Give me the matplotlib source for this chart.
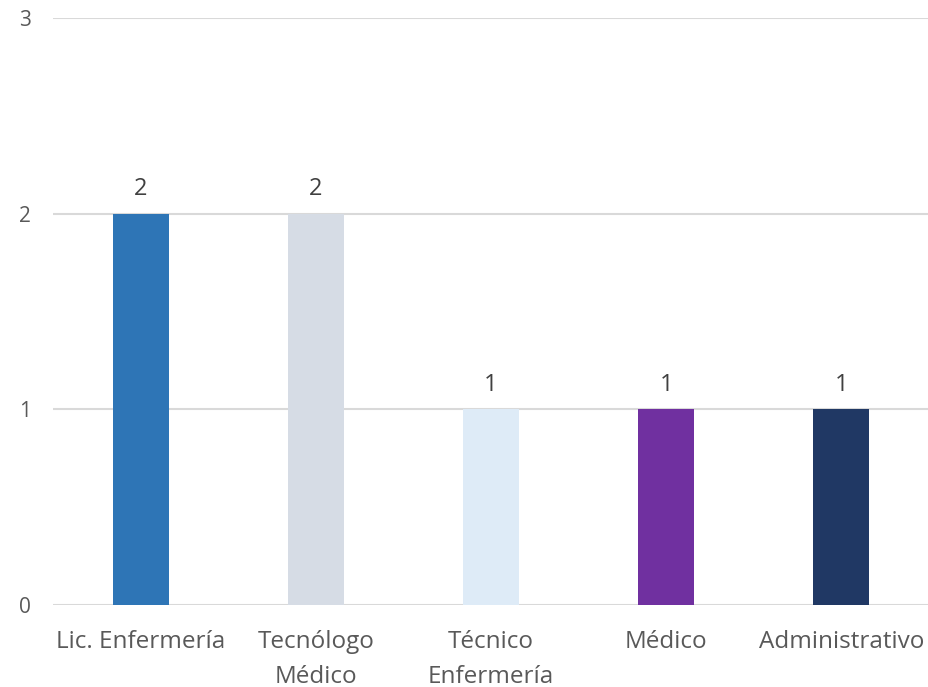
import matplotlib.pyplot as plt
import numpy as np

categories = ["Lic. Enfermería", "Tecnólogo\nMédico", "Técnico\nEnfermería", "Médico", "Administrativo"]
values = [2, 2, 1, 1, 1]
colors = ["#2E75B6", "#D6DCE5", "#DEEBF7", "#7030A0", "#203864"]

plt.rcParams['font.family'] = ['Open Sans', 'DejaVu Sans']

fig = plt.figure(figsize=(9.29, 6.87), dpi=100)
ax = fig.add_axes([0.057, 0.119, 0.943, 0.855])

x = np.arange(len(categories))
bars = ax.bar(x, values, width=0.32, color=colors, zorder=3)

for b, v in zip(bars, values):
    ax.annotate(str(v), (b.get_x() + b.get_width() / 2, v), xytext=(0, 9),
                textcoords='offset points', ha='center', va='bottom',
                fontsize=17, color='#404040')

ax.set_xlim(-0.5, len(categories) - 0.5)
ax.set_ylim(0, 3)
ax.set_yticks([0, 1, 2, 3])
ax.set_xticks(x)
ax.set_xticklabels(categories, fontsize=17.5, color='#595959', linespacing=1.62)
ax.tick_params(axis='y', labelsize=15, labelcolor='#595959', length=0, pad=16)
ax.tick_params(axis='x', length=0, pad=18)
ax.grid(axis='y', color='#D9D9D9', linewidth=1.5, zorder=0)
for s in ax.spines.values():
    s.set_visible(False)

plt.savefig('out.png', dpi=100)
